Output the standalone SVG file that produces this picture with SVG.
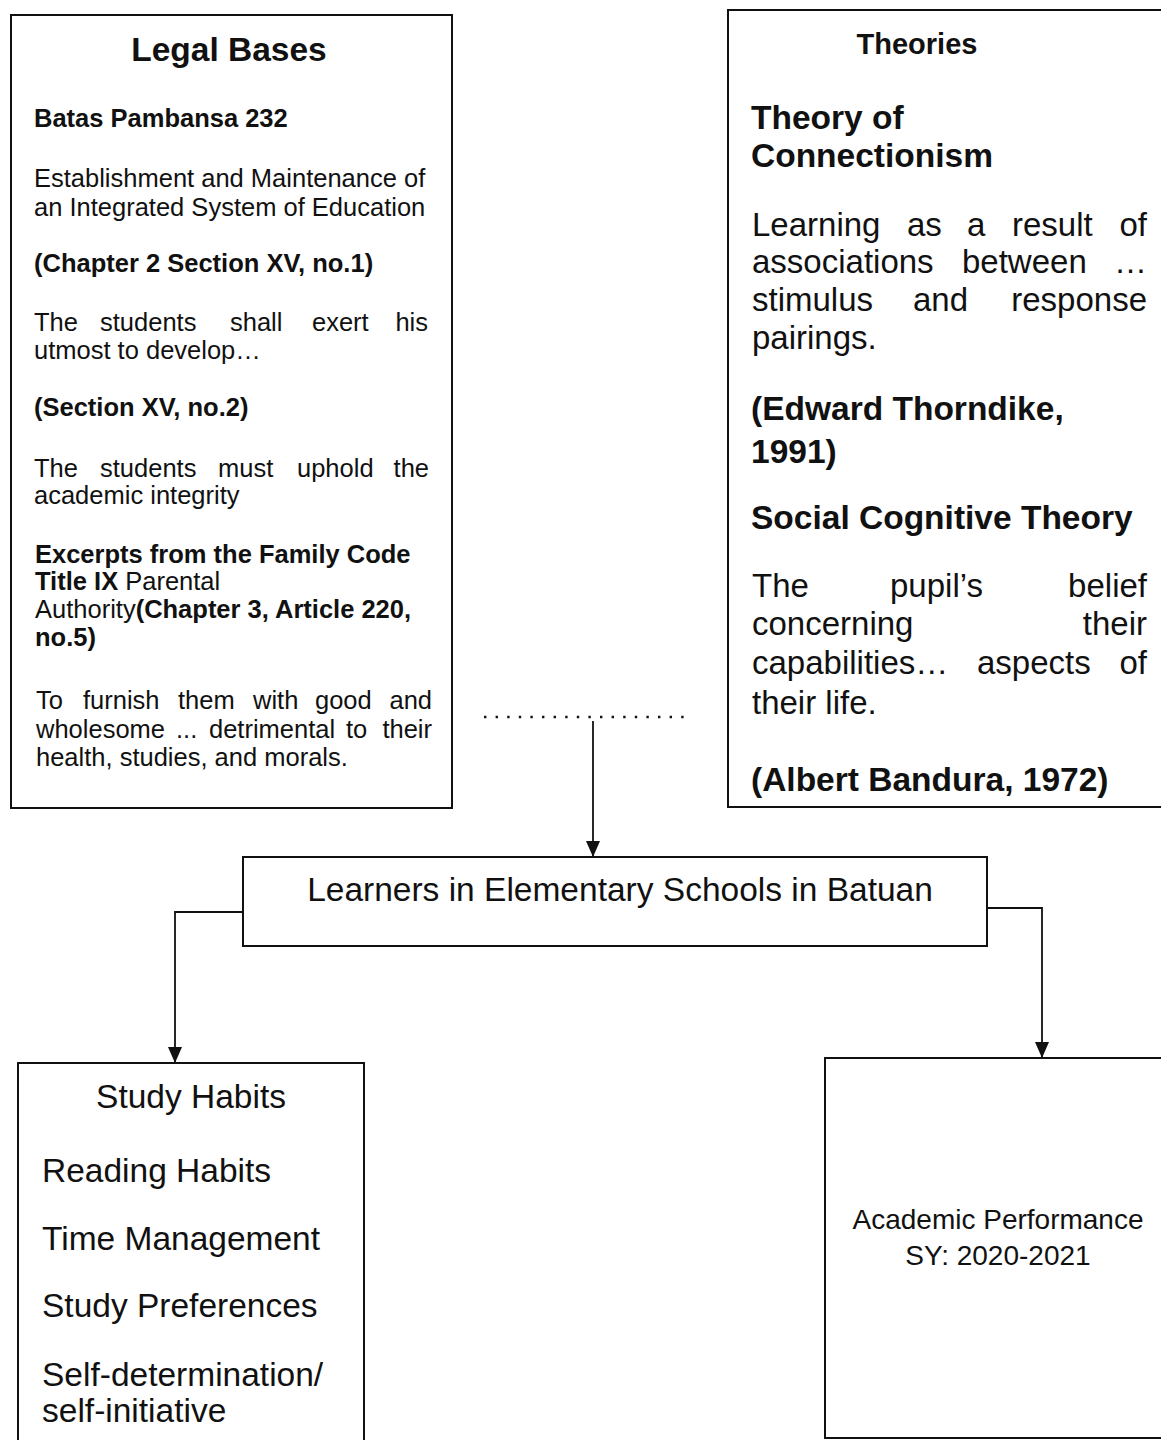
<svg xmlns="http://www.w3.org/2000/svg" width="1161" height="1440" viewBox="0 0 1161 1440">
<defs>
<style>
text{font-family:"Liberation Sans",Arial,sans-serif;fill:#111;}
.box{fill:none;stroke:#111;stroke-width:2;}
.conn{fill:none;stroke:#111;stroke-width:1.8;}
.dot{fill:none;stroke:#111;stroke-width:2.4;stroke-dasharray:2.4 9.2;}
.lb{font-size:25.5px;}
.b{font-weight:bold;}
.th{font-size:33px;}
.h1{font-size:33.5px;font-weight:bold;}
.big{font-size:33.5px;}
.ap{font-size:28px;}
</style>
<marker id="arr" viewBox="0 0 16 14" refX="16" refY="7" markerWidth="16" markerHeight="14" markerUnits="userSpaceOnUse" orient="auto">
<path d="M0,0 L16,7 L0,14 z" fill="#111"/>
</marker>
</defs>
<rect width="1161" height="1440" fill="#fff"/>

<g id="legal-bases">
<rect class="box" x="11" y="15" width="441" height="793"/>
<text class="h1" x="229" y="61" text-anchor="middle">Legal Bases</text>
<text class="lb b" x="34" y="127">Batas Pambansa 232</text>
<text class="lb" x="34" y="187">Establishment and Maintenance of</text>
<text class="lb" x="34" y="216">an Integrated System of Education</text>
<text class="lb b" x="34" y="272">(Chapter 2 Section XV, no.1)</text>
<text class="lb"><tspan x="34" y="331">The</tspan><tspan x="100" y="331">students</tspan><tspan x="230" y="331">shall</tspan><tspan x="312" y="331">exert</tspan><tspan x="428" y="331" text-anchor="end">his</tspan></text>
<text class="lb" x="34" y="359">utmost to develop…</text>
<text class="lb b" x="34" y="416">(Section XV, no.2)</text>
<text class="lb"><tspan x="34" y="477">The</tspan><tspan x="100" y="477">students</tspan><tspan x="218" y="477">must</tspan><tspan x="297" y="477">uphold</tspan><tspan x="429" y="477" text-anchor="end">the</tspan></text>
<text class="lb" x="34" y="504">academic integrity</text>
<text class="lb b" x="35" y="563">Excerpts from the Family Code</text>
<text class="lb" x="35" y="590"><tspan class="b">Title IX</tspan> Parental</text>
<text class="lb" x="35" y="618">Authority<tspan class="b">(Chapter 3, Article 220,</tspan></text>
<text class="lb b" x="35" y="646">no.5)</text>
<text class="lb"><tspan x="36" y="709">To</tspan><tspan x="83" y="709">furnish</tspan><tspan x="178" y="709">them</tspan><tspan x="253" y="709">with</tspan><tspan x="315" y="709">good</tspan><tspan x="432" y="709" text-anchor="end">and</tspan></text>
<text class="lb"><tspan x="36" y="738">wholesome</tspan><tspan x="176" y="738">...</tspan><tspan x="209" y="738">detrimental</tspan><tspan x="346" y="738">to</tspan><tspan x="432" y="738" text-anchor="end">their</tspan></text>
<text class="lb" x="36" y="766">health, studies, and morals.</text>
</g>

<g id="theories">
<rect class="box" x="728" y="10" width="440" height="797"/>
<text class="b" style="font-size:29px" x="917" y="54" text-anchor="middle">Theories</text>
<text class="h1" x="751" y="129">Theory of</text>
<text class="h1" x="751" y="167">Connectionism</text>
<text class="th"><tspan x="752" y="236">Learning</tspan><tspan x="907" y="236">as</tspan><tspan x="967" y="236">a</tspan><tspan x="1012" y="236">result</tspan><tspan x="1147" y="236" text-anchor="end">of</tspan></text>
<text class="th"><tspan x="752" y="273">associations</tspan><tspan x="962" y="273">between</tspan><tspan x="1147" y="273" text-anchor="end">…</tspan></text>
<text class="th"><tspan x="752" y="311">stimulus</tspan><tspan x="913" y="311">and</tspan><tspan x="1147" y="311" text-anchor="end">response</tspan></text>
<text class="th" x="752" y="349">pairings.</text>
<text class="h1" x="751" y="420">(Edward Thorndike,</text>
<text class="h1" x="751" y="463">1991)</text>
<text class="h1" x="751" y="529">Social Cognitive Theory</text>
<text class="th"><tspan x="752" y="597">The</tspan><tspan x="890" y="597">pupil’s</tspan><tspan x="1147" y="597" text-anchor="end">belief</tspan></text>
<text class="th"><tspan x="752" y="635">concerning</tspan><tspan x="1147" y="635" text-anchor="end">their</tspan></text>
<text class="th"><tspan x="752" y="674">capabilities…</tspan><tspan x="977" y="674">aspects</tspan><tspan x="1147" y="674" text-anchor="end">of</tspan></text>
<text class="th" x="752" y="714">their life.</text>
<text class="h1" x="751" y="791">(Albert Bandura, 1972)</text>
</g>

<g id="learners">
<rect class="box" x="243" y="857" width="744" height="89"/>
<text class="big" x="620" y="901" text-anchor="middle">Learners in Elementary Schools in Batuan</text>
</g>

<g id="study-habits">
<rect class="box" x="18" y="1063" width="346" height="400"/>
<text class="big" x="191" y="1108" text-anchor="middle">Study Habits</text>
<text class="big" x="42" y="1182">Reading Habits</text>
<text class="big" x="42" y="1250">Time Management</text>
<text class="big" x="42" y="1317">Study Preferences</text>
<text class="big" x="42" y="1386">Self-determination/</text>
<text class="big" x="42" y="1422">self-initiative</text>
</g>

<g id="academic-performance">
<rect class="box" x="825" y="1058" width="400" height="380"/>
<text class="ap" x="998" y="1229" text-anchor="middle">Academic Performance</text>
<text class="ap" x="998" y="1265" text-anchor="middle">SY: 2020-2021</text>
</g>

<g id="connectors">
<line class="dot" x1="484" y1="717" x2="692" y2="717"/>
<path class="conn" d="M593,721 L593,857" marker-end="url(#arr)"/>
<path class="conn" d="M243,912 L175,912 L175,1063" marker-end="url(#arr)"/>
<path class="conn" d="M987,908 L1042,908 L1042,1058" marker-end="url(#arr)"/>
</g>
</svg>
